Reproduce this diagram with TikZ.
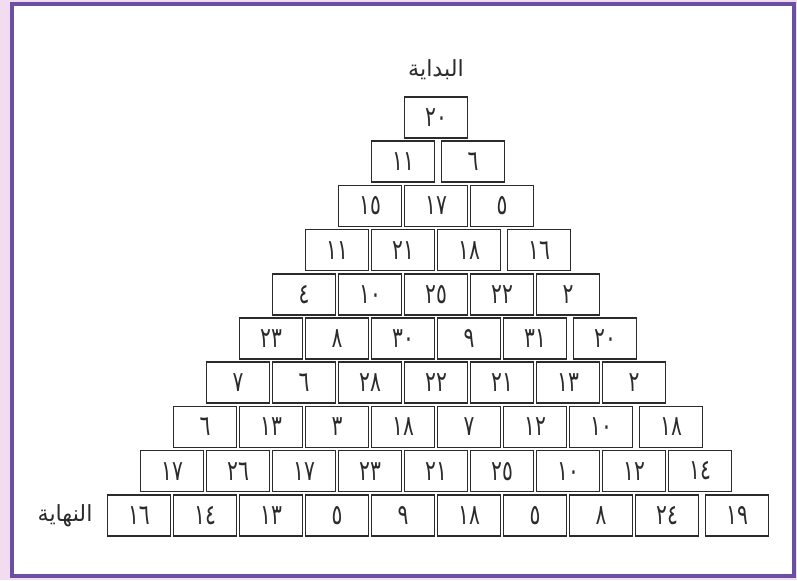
\documentclass[tikz,border=0pt]{standalone}
\usepackage{fontspec}
\setmainfont{DejaVu Sans}
\newfontfamily\arabicfont[Script=Arabic]{DejaVu Sans}
\newfontfamily\brickfont[Script=Arabic, FakeStretch=0.72]{DejaVu Sans}
\TeXXeTstate=1
\usepackage{tikz}
\usetikzlibrary{positioning}
\usepackage{xcolor}
\definecolor{FrameViolet}{HTML}{6A4FA3}
\definecolor{PageBlush}{HTML}{F3DCEF}
\definecolor{BrickInk}{HTML}{2B2B2B}
\tikzset{
    brick/.style={
        draw=BrickInk,
        line width=1.4pt,
        fill=white,
        minimum width=1.89cm,
        minimum height=1.23cm,
        text=BrickInk,
        font=\brickfont\fontsize{24}{27}\selectfont,
        inner sep=0pt
    },
    endword/.style={
        text=BrickInk,
        font=\arabicfont\fontsize{19}{22}\selectfont,
        inner sep=0pt
    }
}

\begin{document}
\begin{tikzpicture}[x=0.03cm, y=-0.03cm]
        \useasboundingbox (0,0) rectangle (797,580);
        \fill[PageBlush] (0,0) rectangle (797,580);
        \draw[FrameViolet, line width=4.2pt, fill=white] (12,4) rectangle (794,576);

        \foreach \r/\row in {1/{٢٠}, 2/{١١,٦}, 3/{١٥,١٧,٥}, 4/{١١,٢١,١٨,١٦},
            5/{٤,١٠,٢٥,٢٢,٢}, 6/{٢٣,٨,٣٠,٩,٣١,٢٠}, 7/{٧,٦,٢٨,٢٢,٢١,١٣,٢},
            8/{٦,١٣,٣,١٨,٧,١٢,١٠,١٨}, 9/{١٧,٢٦,١٧,٢٣,٢١,٢٥,١٠,١٢,١٤},
            10/{١٦,١٤,١٣,٥,٩,١٨,٥,٨,٢٤,١٩}} {
            \foreach \n [count=\k] in \row
                \node[brick] (b\r-\k) at ({436+(\k-(\r+1)/2)*66+4*and(\k==\r,iseven(\r))}, {117.5+(\r-1)*44.2}) {\n};
        }

        \node[endword, above=0.5cm of b1-1] (start) {\beginR البداية\endR};
        \node[endword, left=0.42cm of b10-1] (finish) {\beginR النهاية\endR};
    \end{tikzpicture}
\end{document}
